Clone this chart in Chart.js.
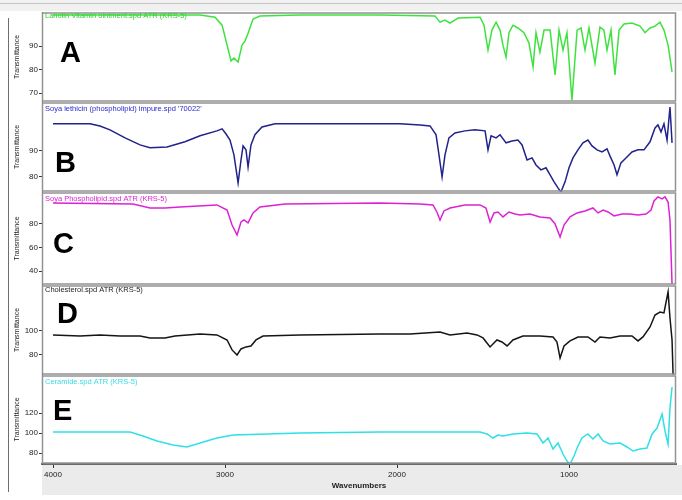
<!DOCTYPE html>
<html>
<head>
<meta charset="utf-8">
<title>IR spectra A-E</title>
<script src="https://cdn.jsdelivr.net/npm/chart.js@4.4.1/dist/chart.umd.min.js"></script>
<style>
    html, body { margin: 0; padding: 0; background: #ffffff; }
    #wrap { position: relative; width: 682px; height: 500px; overflow: hidden; }
    #edge { position: absolute; left: 8px; top: 18px; height: 474px; border-left: 1px solid #6e6e6e; }
</style>
</head>
<body>
<div id="wrap">
    <canvas id="irChart" width="682" height="500"></canvas>
    <div id="edge"></div>
</div>
<script>
// Wavenumber ticks shared by all panels
const xTicks = [4000, 3000, 2000, 1000];

// Panel A
const wnA = [4000, 3610, 3145, 3058, 3017, 2988, 2965, 2948, 2924, 2901, 2884, 2866, 2837, 2797, 2564, 2099, 1779, 1750, 1721, 1692, 1645, 1517, 1494, 1471, 1448, 1424, 1401, 1384, 1366, 1349, 1326, 1297, 1262, 1233, 1209, 1192, 1169, 1145, 1110, 1081, 1058, 1035, 1012, 983, 953, 930, 907, 884, 849, 820, 797, 779, 756, 733, 709, 680, 634, 587, 558, 529, 500, 471, 448, 424, 401];
const tA = [103.2, 103.2, 103.2, 102.3, 98.9, 90.4, 83.6, 84.9, 83.2, 90.4, 92.1, 95.5, 101.5, 102.8, 103.2, 103.2, 102.8, 100.2, 101.1, 99.8, 101.9, 102.3, 98.9, 88.3, 96.8, 100.2, 96.8, 90.4, 85.3, 95.7, 98.9, 97.7, 95.7, 91.3, 81.1, 95.7, 87.4, 96.8, 96.8, 77.7, 96.8, 88.3, 95.7, 67.0, 96.8, 97.7, 88.3, 97.7, 82.8, 98.1, 96.8, 88.3, 96.8, 77.7, 96.8, 99.4, 99.8, 98.5, 95.7, 97.7, 98.5, 100.2, 96.8, 90.4, 79.0];
const ticksA = [70, 80, 90];

// Panel B
const wnB = [4000, 3785, 3727, 3669, 3581, 3494, 3436, 3337, 3233, 3145, 3047, 3017, 2994, 2971, 2948, 2924, 2907, 2895, 2878, 2866, 2849, 2826, 2785, 2709, 1983, 1866, 1808, 1773, 1756, 1738, 1721, 1698, 1663, 1605, 1547, 1488, 1471, 1453, 1424, 1401, 1366, 1331, 1297, 1273, 1244, 1215, 1192, 1163, 1134, 1110, 1087, 1064, 1047, 1023, 1000, 977, 948, 919, 890, 866, 837, 808, 779, 762, 738, 721, 698, 669, 634, 599, 564, 529, 500, 483, 465, 448, 430, 413, 401];
const tB = [100.4, 100.4, 99.6, 98.1, 95.0, 92.3, 91.2, 91.5, 93.5, 95.8, 97.7, 98.5, 96.5, 94.2, 88.5, 77.7, 86.5, 91.9, 90.4, 83.8, 92.3, 96.2, 99.2, 100.4, 100.4, 100.0, 99.6, 96.2, 88.5, 80.0, 88.5, 95.0, 96.9, 97.7, 98.1, 97.7, 90.4, 95.8, 95.0, 96.2, 93.1, 93.8, 94.2, 92.3, 86.5, 87.3, 84.6, 82.7, 83.5, 80.8, 78.1, 75.8, 74.2, 78.1, 83.5, 87.3, 90.4, 93.1, 94.2, 91.9, 90.4, 89.6, 90.8, 88.1, 84.6, 80.8, 85.4, 87.3, 89.6, 90.4, 90.4, 93.5, 98.8, 100.0, 97.3, 100.4, 94.2, 106.9, 93.1];
const ticksB = [80, 90];

// Panel C
const wnC = [4000, 3535, 3436, 3349, 3262, 3047, 2988, 2959, 2930, 2907, 2890, 2866, 2837, 2797, 2651, 2099, 1866, 1791, 1768, 1750, 1727, 1692, 1605, 1517, 1483, 1459, 1436, 1413, 1384, 1349, 1314, 1285, 1227, 1169, 1110, 1081, 1052, 1029, 994, 953, 907, 861, 831, 802, 773, 738, 692, 645, 599, 552, 523, 506, 483, 459, 442, 424, 413, 401];
const tC = [97.9, 97.0, 93.6, 93.6, 94.5, 96.2, 91.9, 79.1, 70.6, 81.7, 83.4, 80.9, 89.4, 94.5, 97.0, 97.9, 97.0, 96.2, 90.2, 83.4, 91.1, 93.6, 96.2, 96.2, 93.6, 81.7, 89.4, 90.2, 86.0, 90.2, 88.5, 87.7, 88.5, 86.0, 85.1, 80.0, 68.9, 79.1, 86.0, 89.4, 91.1, 93.6, 89.4, 91.9, 90.2, 86.8, 88.5, 88.5, 87.7, 88.5, 91.9, 99.6, 103.0, 101.3, 103.0, 98.7, 83.4, 28.9];
const ticksC = [40, 60, 80];

// Panel D
const wnD = [4000, 3843, 3727, 3610, 3494, 3436, 3349, 3291, 3145, 3047, 2988, 2959, 2930, 2907, 2878, 2849, 2820, 2779, 2564, 2099, 1924, 1750, 1692, 1593, 1535, 1500, 1459, 1419, 1390, 1360, 1326, 1268, 1169, 1093, 1070, 1052, 1029, 994, 948, 890, 849, 820, 762, 703, 634, 599, 570, 529, 500, 471, 448, 424, 413, 401, 395];
const tD = [96.7, 95.8, 96.7, 95.8, 95.8, 94.2, 94.2, 95.8, 97.5, 96.7, 92.5, 84.2, 80.0, 85.0, 86.7, 87.5, 92.5, 95.8, 96.7, 97.5, 97.5, 99.2, 96.7, 98.3, 96.7, 94.2, 86.7, 92.5, 90.8, 87.5, 92.5, 95.8, 95.8, 95.0, 90.8, 77.5, 87.5, 91.7, 95.0, 95.0, 90.8, 95.0, 94.2, 95.8, 95.8, 91.7, 95.0, 103.3, 113.3, 115.8, 115.0, 132.5, 110.8, 92.5, 63.5];
const ticksD = [80, 100];

// Panel E
const wnE = [4000, 3552, 3477, 3395, 3302, 3221, 3145, 3047, 2953, 2756, 2564, 2099, 1517, 1477, 1442, 1413, 1384, 1326, 1244, 1186, 1151, 1122, 1093, 1064, 1035, 1012, 994, 971, 953, 925, 890, 861, 831, 802, 762, 703, 663, 628, 587, 547, 517, 488, 459, 442, 424, 413, 401];
const tE = [101, 101, 97, 92, 88, 86, 90, 95, 98, 99, 100, 101, 101, 99, 95, 98, 97, 99, 100, 99, 90, 95, 84, 90, 79, 72, 69, 77, 85, 95, 99, 94, 99, 92, 89, 90, 86, 82, 84, 85, 99, 105, 119, 102, 89, 125, 146];
const ticksE = [80, 100, 120];

// Panel letters and sample names
const letters = ["A", "B", "C", "D", "E"];
const sampleNames = [
    "Lanolin Vitamin ointment.spd ATR (KRS-5)",
    "Soya lethicin (phospholipid) impure.spd '70022'",
    "Soya Phospholipid.spd ATR (KRS-5)",
    "Cholesterol.spd ATR (KRS-5)",
    "Ceramide.spd ATR (KRS-5)",
];

/**
 * Per-panel look: colour, axis range, stack share and where the letter sits
 */
const panels = [
    { id: "yA", wn: wnA, t: tA, ticks: ticksA, color: "#3ee23e", text: "#2fd02f", min: 66.2, max: 104.5, share: 90, letterDx: 18, letterDy: 50, nameDy: 4 },
    { id: "yB", wn: wnB, t: tB, ticks: ticksB, color: "#22228c", text: "#2a2ad0", min: 74.2, max: 108.8, share: 90, letterDx: 13, letterDy: 70, nameDy: 7 },
    { id: "yC", wn: wnC, t: tC, ticks: ticksC, color: "#dc22d4", text: "#dc22d4", min: 28.1, max: 107.2, share: 93, letterDx: 11, letterDy: 61, nameDy: 7 },
    { id: "yD", wn: wnD, t: tD, ticks: ticksD, color: "#151515", text: "#222222", min: 63.3, max: 138.3, share: 90, letterDx: 15, letterDy: 38, nameDy: 5 },
    { id: "yE", wn: wnE, t: tE, ticks: ticksE, color: "#2fe0e6", text: "#38dde6", min: 69, max: 158, share: 89, letterDx: 11, letterDy: 45, nameDy: 7 },
];

Chart.defaults.font.family = "'Liberation Sans', Arial, sans-serif";
Chart.defaults.color = "#222";

const datasets = panels.map((p) => ({
    label: p.id,
    data: p.wn.map((w, i) => ({ x: w, y: p.t[i] })),
    yAxisID: p.id,
    borderColor: p.color,
    borderWidth: 1.5,
    pointRadius: 0,
    tension: 0,
    fill: false,
}));

const scales = {
    x: {
        type: "linear",
        reverse: true,
        min: 378,
        max: 4064,
        afterBuildTicks: (s) => {
            s.ticks = xTicks.map((v) => ({ value: v }));
        },
        afterFit: (s) => {
            s.height = 36;
        },
        grid: { drawOnChartArea: false, tickLength: 4, color: "#333" },
        border: { display: true, color: "#6a6a6a", width: 2 },
        ticks: {
            font: { size: 8 },
            padding: 2,
            maxRotation: 0,
            autoSkip: false,
            callback: (v) => String(v),
        },
        title: {
            display: true,
            text: "Wavenumbers",
            font: { size: 8, weight: "bold" },
            padding: { top: 0, bottom: 9 },
        },
    },
};

panels.forEach((p, i) => {
    scales[p.id] = {
        type: "linear",
        position: "left",
        stack: "spectra",
        stackWeight: p.share,
        weight: panels.length - i,
        min: p.min,
        max: p.max,
        afterBuildTicks: (s) => {
            s.ticks = p.ticks.map((v) => ({ value: v }));
        },
        afterFit: (s) => {
            s.width = 42;
        },
        grid: { drawOnChartArea: false, tickLength: 3, color: "#333" },
        border: { display: true, color: "#555", width: 1 },
        ticks: { font: { size: 8 }, padding: 1, callback: (v) => String(v) },
        title: {
            display: true,
            text: "Transmittance",
            font: { size: 7 },
            padding: { top: 13, bottom: 0 },
        },
    };
});

// Window-style background, panel frames, letters and sample names
const panelDecor = {
    id: "panelDecor",
    beforeDraw(chart) {
        const { ctx, chartArea } = chart;
        ctx.save();
        ctx.fillStyle = "#f1f1f1";
        ctx.fillRect(0, 0, chart.width, chartArea.top - 1);
        ctx.fillStyle = "#ebebeb";
        ctx.fillRect(chartArea.left, chartArea.bottom + 1, chart.width - chartArea.left, 30);
        ctx.strokeStyle = "#c4c4c4";
        ctx.lineWidth = 1;
        ctx.beginPath();
        ctx.moveTo(0, 3.5);
        ctx.lineTo(chart.width, 3.5);
        ctx.stroke();
        ctx.fillStyle = "#ffffff";
        ctx.fillRect(chartArea.left, chartArea.top, chartArea.width, chartArea.height);
        ctx.restore();
    },
    afterDraw(chart) {
        const { ctx, chartArea } = chart;
        ctx.save();
        panels.forEach((p, i) => {
            const s = chart.scales[p.id];
            ctx.strokeStyle = "#929292";
            ctx.lineWidth = 1.5;
            ctx.strokeRect(chartArea.left + 0.5, s.top + 1, chartArea.width - 1, s.height - 2);

            ctx.fillStyle = p.text;
            ctx.font = "7.5px 'Liberation Sans Narrow', 'Liberation Sans', Arial";
            ctx.textBaseline = "middle";
            ctx.textAlign = "left";
            ctx.fillText(sampleNames[i], chartArea.left + 3, s.top + p.nameDy);

            ctx.fillStyle = "#000";
            ctx.font = "bold 29px 'Liberation Sans', Arial";
            ctx.textBaseline = "alphabetic";
            ctx.fillText(letters[i], chartArea.left + p.letterDx, s.top + p.letterDy);
        });
        ctx.restore();
    },
};

new Chart(document.getElementById("irChart"), {
    type: "line",
    data: { datasets },
    options: {
        responsive: false,
        animation: false,
        layout: { padding: { top: 12, right: 6, left: 0, bottom: 0 } },
        plugins: { legend: { display: false }, tooltip: { enabled: false } },
        scales,
    },
    plugins: [panelDecor],
});
</script>
</body>
</html>
